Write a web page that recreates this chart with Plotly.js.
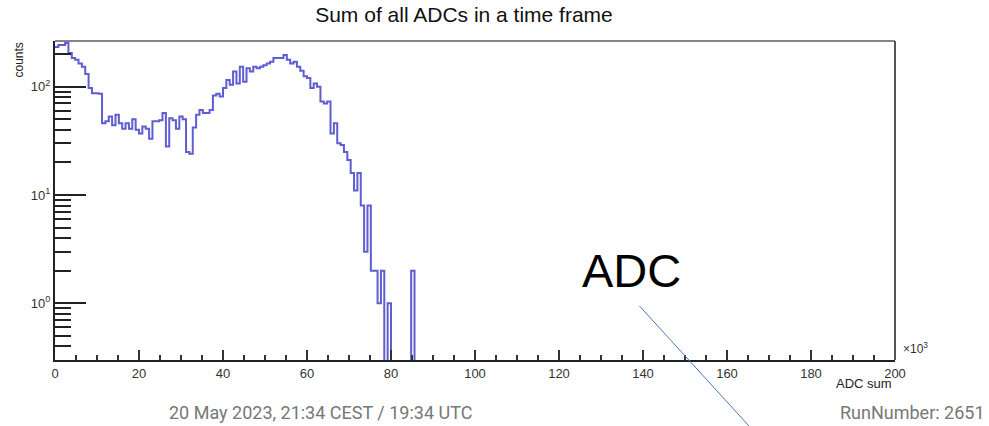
<!DOCTYPE html>
<html>
<head>
<meta charset="utf-8">
<script src="https://cdn.plot.ly/plotly-3.0.1.min.js"></script>
<style>
  html, body { margin: 0; padding: 0; background: #ffffff; }
  #chart { width: 989px; height: 426px; }
</style>
</head>
<body>
<div id="chart"></div>
<script>
// ---- data (ADC sum histogram, bin width 0.8 x10^3, bins from 0) ----
const binWidthK = 0.8;
const counts = [
  233, 243, 243, 253, 205, 184, 177, 164, 153, 131,
   97,  87,  87,  86,  46,  48,  53,  44,  55,  46,
   41,  46,  41,  50,  40,  37,  43,  41,  33,  48,
   48,  49,  57,  28,  51,  49,  41,  53,  50,  25,
   24,  42,  55,  61,  57,  57,  61,  83,  86,  81,
   97, 115, 104, 138, 107, 153, 111, 148, 138, 153,
  148, 153, 158, 164, 170, 184, 184, 184, 196, 177,
  164, 170, 153, 140, 125, 120,  97, 107, 100,  73,
   70,  73,  37,  46,  30,  29,  25,  21,  16,  11,
   16,   8,   3,   8,   2,   2,   1,   2,   0,   1,
    0,   0,   0,   0,   0,   0,   2,   0
];
const xTickVals = [0, 20, 40, 60, 80, 100, 120, 140, 160, 180, 200];
const yTickVals = [1, 10, 100];
const yTickText = ['10<sup>0</sup>', '10<sup>1</sup>', '10<sup>2</sup>'];

// ---- step line built from bin edges ----
const floorVal = 0.01; // empty bins drop below the visible log range
const xs = [], ys = [];
for (let k = 0; k < counts.length; k++) {
  xs.push(k * binWidthK);
  ys.push(counts[k] > 0 ? counts[k] : floorVal);
}
xs.push(counts.length * binWidthK);
ys.push(counts[counts.length - 1] > 0 ? counts[counts.length - 1] : floorVal);

// log minor tick positions
const minorVals = [];
for (let d = -1; d <= 2; d++) {
  for (let m = 2; m <= 9; m++) minorVals.push(m * Math.pow(10, d));
}

const trace = {
  type: 'scatter', mode: 'lines',
  x: xs, y: ys,
  line: { shape: 'hv', color: '#5e5ed0', width: 2 },
  hoverinfo: 'skip', showlegend: false
};

const W = 989, H = 426;
const L = 55, R = 94, T = 41, B = 66;
const px = (p) => (p - L) / (W - L - R);       // pixel x -> paper x
const py = (p) => 1 - (p - T) / (H - T - B);   // pixel y -> paper y

const layout = {
  width: W, height: H,
  margin: { l: L, r: R, t: T, b: B, pad: 0 },
  paper_bgcolor: '#ffffff', plot_bgcolor: '#ffffff',
  font: { family: 'Liberation Sans, Arial, sans-serif', color: '#333' },
  title: {
    text: 'Sum of all ADCs in a time frame',
    font: { family: 'Liberation Sans, Arial, sans-serif', size: 21, color: '#111' },
    x: 464 / W, xref: 'container', xanchor: 'center',
    y: 1 - 15 / H, yref: 'container', yanchor: 'middle'
  },
  xaxis: {
    range: [0, 200], tickmode: 'array', tickvals: xTickVals,
    ticks: 'inside', ticklen: 10, tickwidth: 2, tickcolor: '#333',
    minor: { dtick: 5, tick0: 0, ticks: 'inside', ticklen: 5, tickwidth: 2, tickcolor: '#333', showgrid: false },
    showline: true, linecolor: '#222', linewidth: 2,
    showgrid: false, zeroline: false,
    tickfont: { size: 13, color: '#333' }
  },
  yaxis: {
    type: 'log', range: [Math.log10(0.30), Math.log10(264)],
    tickmode: 'array', tickvals: yTickVals, ticktext: yTickText,
    ticks: 'inside', ticklen: 31, tickwidth: 2, tickcolor: '#222',
    minor: { tickmode: 'array', tickvals: minorVals, ticks: 'inside', ticklen: 16, tickwidth: 2, tickcolor: '#222', showgrid: false },
    showline: true, linecolor: '#222', linewidth: 2,
    showgrid: false, zeroline: false,
    tickfont: { size: 13, color: '#333' }
  },
  shapes: [
    { type: 'line', xref: 'paper', yref: 'paper', x0: 0, x1: 1, y0: 1, y1: 1, line: { color: '#858585', width: 2 } },
    { type: 'line', xref: 'paper', yref: 'paper', x0: 1, x1: 1, y0: 0, y1: 1, line: { color: '#555', width: 2 } },
    { type: 'line', xref: 'paper', yref: 'paper', x0: px(639.5), y0: py(306), x1: px(749), y1: py(426), line: { color: '#4a78b8', width: 1 } }
  ],
  annotations: [
    { text: 'counts', xref: 'paper', yref: 'paper', x: px(18), y: py(41), xanchor: 'center', yanchor: 'top',
      textangle: -90, showarrow: false, font: { size: 12, color: '#222' } },
    { text: 'ADC sum', xref: 'paper', yref: 'paper', x: px(894), y: py(383), xanchor: 'right', yanchor: 'middle',
      showarrow: false, font: { size: 13, color: '#222' } },
    { text: '\u00d710<sup>3</sup>', xref: 'paper', yref: 'paper', x: px(901), y: py(348), xanchor: 'left', yanchor: 'middle',
      showarrow: false, font: { size: 12, color: '#333' } },
    { text: 'ADC', xref: 'paper', yref: 'paper', x: px(631), y: py(270), xanchor: 'center', yanchor: 'middle',
      showarrow: false, font: { size: 47, color: '#000' } },
    { text: '20 May 2023, 21:34 CEST / 19:34 UTC', xref: 'paper', yref: 'paper', x: px(167), y: py(412), xanchor: 'left', yanchor: 'middle',
      showarrow: false, font: { family: 'Roboto, sans-serif', size: 18, color: '#777' } },
    { text: 'RunNumber: 2651', xref: 'paper', yref: 'paper', x: px(987), y: py(412), xanchor: 'right', yanchor: 'middle',
      showarrow: false, font: { family: 'Roboto, sans-serif', size: 18, color: '#777' } }
  ]
};

Plotly.newPlot('chart', [trace], layout, { staticPlot: true, displayModeBar: false });
</script>
</body>
</html>
